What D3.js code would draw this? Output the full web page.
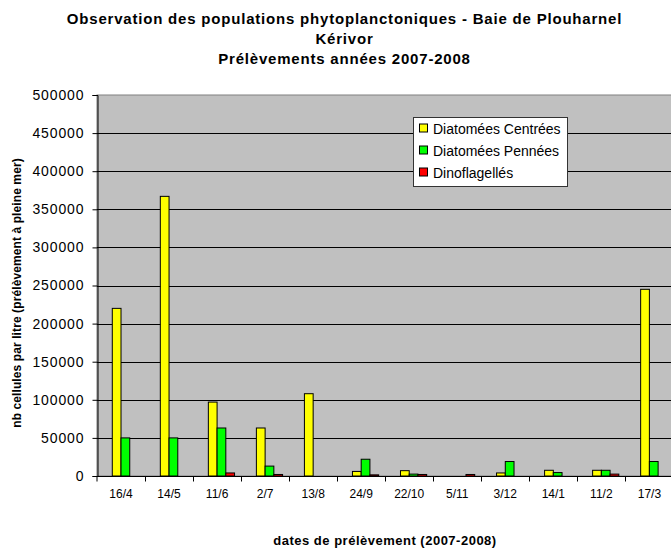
<!DOCTYPE html>
<html>
<head>
<meta charset="utf-8">
<script src="https://cdn.jsdelivr.net/npm/d3@7"></script>
<style>
  html, body { margin: 0; padding: 0; background: #fff; }
  svg { display: block; font-family: "Liberation Sans", Arial, sans-serif; }
</style>
</head>
<body>
<svg id="chart" width="671" height="548"></svg>
<script>
const categories = ["16/4","14/5","11/6","2/7","13/8","24/9","22/10","5/11","3/12","14/1","11/2","17/3"];
const seriesNames = ["Diatomées Centrées","Diatomées Pennées","Dinoflagellés"];
const centrees = [220000, 367000, 97000, 63000, 108000, 6000, 7000, 0, 4000, 7500, 7500, 245000];
const pennees  = [50000, 50000, 63000, 13000, 0, 22000, 2500, 0, 19000, 4500, 7500, 19000];
const dinoflagelles = [0, 0, 4000, 2000, 0, 1500, 2000, 2000, 0, 0, 2500, 0];
const yTicks = [0, 50000, 100000, 150000, 200000, 250000, 300000, 350000, 400000, 450000, 500000];
const titleLines = ["Observation des populations phytoplanctoniques - Baie de Plouharnel", "Kérivor", "Prélèvements années 2007-2008"];
const xTitle = "dates de prélèvement (2007-2008)";
const yTitle = "nb cellules par litre (prélèvement à pleine mer)";
const colors = ["#FFFF00", "#00FF00", "#FF0000"];

const seriesValues = [centrees, pennees, dinoflagelles];

const svg = d3.select("#chart");
const plot = { left: 97, top: 95, right: 673.4, bottom: 476 };

const x0 = d3.scaleBand().domain(categories).range([plot.left, plot.right]).paddingInner(0).paddingOuter(0);
// Excel-style group: 4 slots (first empty), gap width 150%
const x1 = d3.scaleBand().domain(["_", ...seriesNames]).range([0, x0.bandwidth()]).paddingInner(0).paddingOuter(0.75);
const y = d3.scaleLinear().domain([0, 500000]).range([plot.bottom, plot.top]);

// plot background
svg.append("rect")
  .attr("x", plot.left).attr("y", plot.top)
  .attr("width", plot.right - plot.left).attr("height", plot.bottom - plot.top)
  .attr("fill", "#C0C0C0").attr("stroke", "#808080").attr("stroke-width", 1);

// gridlines
svg.append("g").selectAll("line").data(yTicks.filter(t => t > 0 && t < 500000)).join("line")
  .attr("x1", plot.left).attr("x2", plot.right)
  .attr("y1", d => Math.round(y(d)) + 0.5).attr("y2", d => Math.round(y(d)) + 0.5)
  .attr("stroke", "#000").attr("stroke-width", 1);

// bars
const data = [];
categories.forEach((c, i) => {
  seriesNames.forEach((s, j) => {
    const v = seriesValues[j][i];
    if (v > 0) data.push({ c, s, v, j });
  });
});
svg.append("g").selectAll("rect").data(data).join("rect")
  .attr("x", d => x0(d.c) + x1(d.s))
  .attr("width", x1.bandwidth())
  .attr("y", d => y(d.v))
  .attr("height", d => y(0) - y(d.v))
  .attr("fill", d => colors[d.j])
  .attr("stroke", "#000").attr("stroke-width", 1);

// y axis
const yAxis = d3.axisLeft(y).tickValues(yTicks).tickSize(5).tickPadding(8).tickFormat(d3.format("d"));
const gy = svg.append("g").attr("transform", `translate(${plot.left + 0.5},0)`).call(yAxis);
gy.select(".domain").attr("stroke", "#000");
gy.selectAll(".tick line").attr("stroke", "#000");
gy.selectAll(".tick text").attr("font-size", "14px").attr("letter-spacing", "0.9px")
  .attr("fill", "#000").attr("font-family", "Liberation Sans, Arial, sans-serif");

// x axis
const gx = svg.append("g").attr("transform", `translate(0,${plot.bottom + 0.5})`);
gx.append("line").attr("x1", plot.left).attr("x2", plot.right).attr("stroke", "#000");
gx.selectAll("line.tk").data(categories.slice(1)).join("line").attr("class", "tk")
  .attr("x1", d => Math.round(x0(d)) + 0.5).attr("x2", d => Math.round(x0(d)) + 0.5)
  .attr("y1", 0).attr("y2", 5).attr("stroke", "#000");
gx.append("line").attr("x1", plot.left).attr("x2", plot.left).attr("y1", 0).attr("y2", 5).attr("stroke", "#000");
gx.selectAll("text").data(categories).join("text")
  .attr("x", d => x0(d) + x0.bandwidth() / 2)
  .attr("y", 21)
  .attr("text-anchor", "middle")
  .attr("font-size", "12px")
  .attr("fill", "#000")
  .text(d => d);

// titles
svg.append("g").selectAll("text").data(titleLines).join("text")
  .attr("x", 344.5).attr("y", (d, i) => 24 + i * 20)
  .attr("text-anchor", "middle").attr("font-weight", "bold").attr("font-size", "15px")
  .attr("letter-spacing", "0.8px")
  .attr("fill", "#000").text(d => d);

svg.append("text").attr("x", 385).attr("y", 545)
  .attr("text-anchor", "middle").attr("font-weight", "bold").attr("font-size", "13px")
  .attr("letter-spacing", "0.5px")
  .attr("fill", "#000").text(xTitle);

svg.append("text").attr("transform", "translate(21,293) rotate(-90)")
  .attr("text-anchor", "middle").attr("font-weight", "bold").attr("font-size", "12px")
  .attr("letter-spacing", "0.1px")
  .attr("fill", "#000").text(yTitle);

// legend
const lg = svg.append("g");
lg.append("rect").attr("x", 413.5).attr("y", 117.5).attr("width", 154).attr("height", 69)
  .attr("fill", "#fff").attr("stroke", "#333").attr("stroke-width", 1);
const items = lg.selectAll("g").data(seriesNames).join("g")
  .attr("transform", (d, i) => `translate(0,${128.5 + i * 22})`);
items.append("rect").attr("x", 419.5).attr("y", -4.5).attr("width", 8).attr("height", 8)
  .attr("fill", (d, i) => colors[i]).attr("stroke", "#000");
items.append("text").attr("x", 433).attr("y", 5)
  .attr("font-size", "14px").attr("fill", "#000").text(d => d);
</script>
</body>
</html>
